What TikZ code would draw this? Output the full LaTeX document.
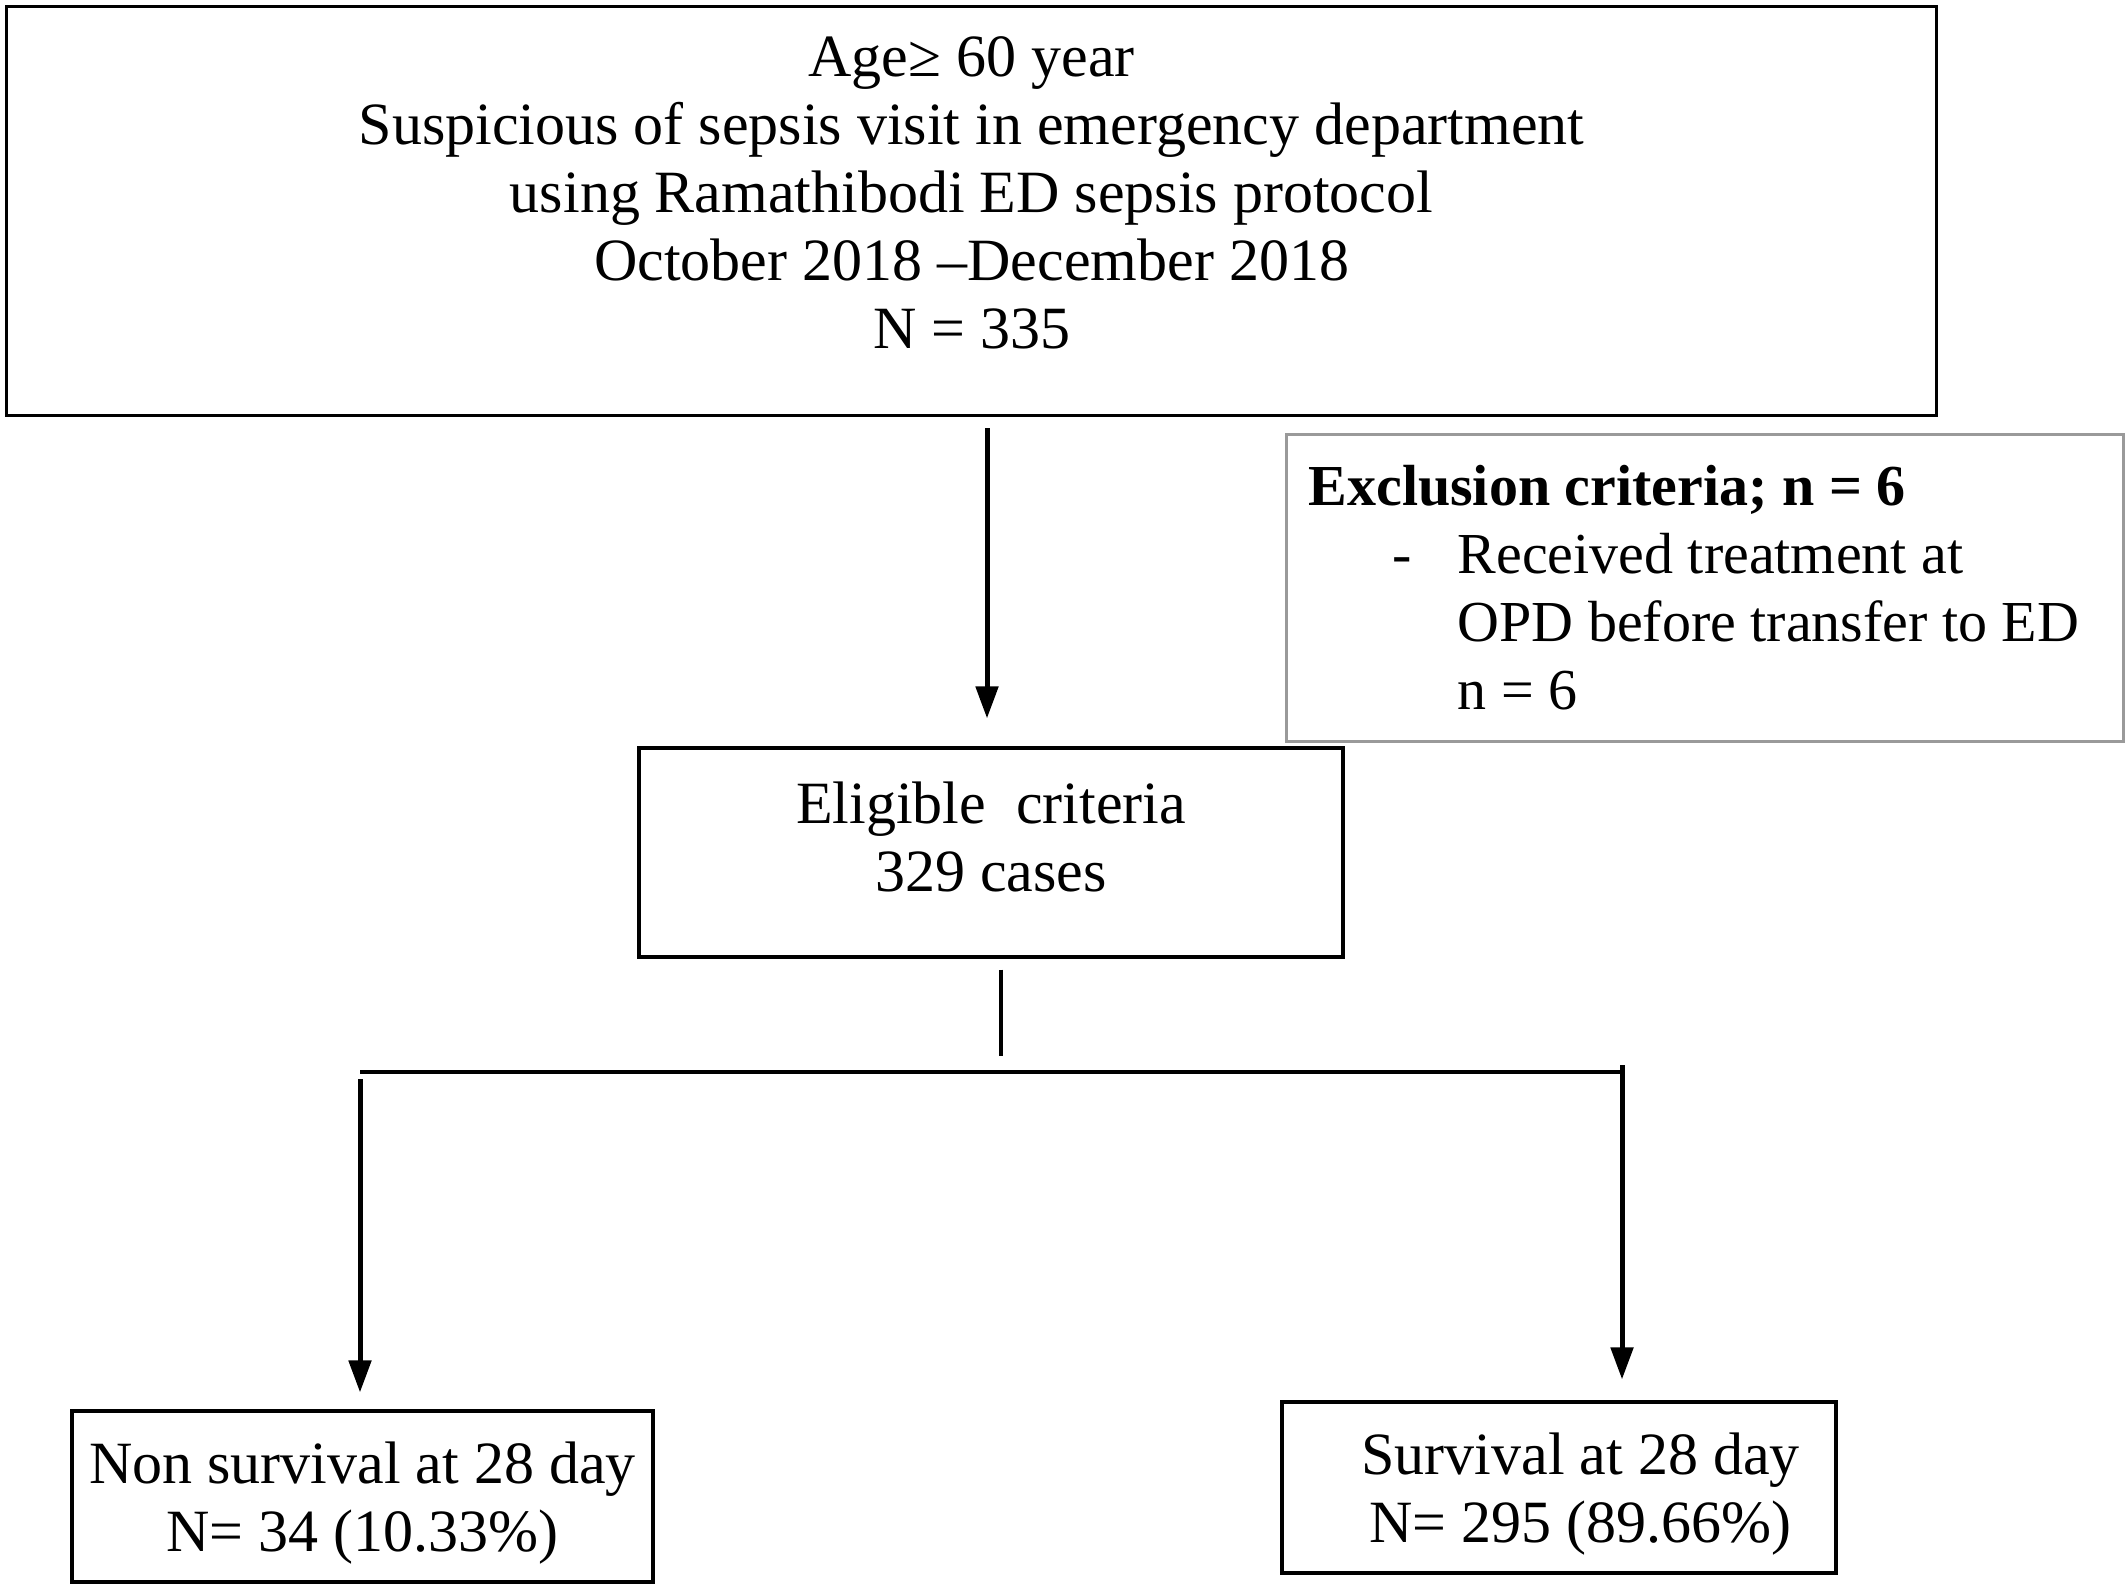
\documentclass[tikz,border=0pt]{standalone}
\usepackage{fontspec}
\setmainfont{Liberation Serif}
\usetikzlibrary{arrows.meta,positioning}
\definecolor{lightframe}{HTML}{9A9A9A}
\tikzset{box/.style={draw=black,line width=0.8pt,inner sep=0pt},
  txt/.style={align=center,inner sep=0pt,font=\fontsize{15}{17}\selectfont},
  exbox/.style={box,draw=lightframe,align=flush left,inner xsep=5.5pt,text width=198.25pt,
    font=\fontsize{14.5}{17}\selectfont},
  arrow/.style={-{Triangle[length=8pt,width=5.5pt]},line width=1.25pt,draw=black},
  link/.style={line width=0.8pt,draw=black}}
\begin{document}
\begin{tikzpicture}[x=0.25pt,y=-0.25pt]
\useasboundingbox (0,0) rectangle (2128,1587);
% frames
\node[box,anchor=north west,minimum width=482.5pt,minimum height=102.25pt] (visit) at (5,5) {};
\node[box,minimum width=176pt,minimum height=52.25pt] (elig) at (991,852.5) {};
\node[box,minimum width=145.25pt,minimum height=42.75pt] (nonsurv) at (362.5,1496.5) {};
\node[box,minimum width=138.5pt,minimum height=42.75pt] (surv) at (1559,1487.5) {};
\node[exbox,anchor=north west,minimum height=76.75pt] (excl) at (1285,433)
  {{\bfseries Exclusion criteria; n = 6}\\
   \hspace*{21pt}\makebox[16.25pt][l]{-}Received treatment at\\
   \hspace*{37.25pt}OPD before transfer to ED\\
   \hspace*{37.25pt}n = 6};
% texts
\node[txt] (visittxt) at ([yshift=4.6pt]visit.center)
  {Age≥ 60 year\\Suspicious of sepsis visit in emergency department\\
   using Ramathibodi ED sepsis protocol\\October 2018 –December 2018\\N = 335};
\node[txt] (eligtxt) at ([yshift=4pt]elig.center) {Eligible~ criteria\\329 cases};
\node[txt] (nonsurvtxt) at ([yshift=-1.7pt]nonsurv.center) {Non survival at 28 day\\N= 34 (10.33\%)};
\node[txt] (survtxt) at ([xshift=5.4pt,yshift=-1.7pt]surv.center) {Survival at 28 day\\N= 295 (89.66\%)};
% split below the eligible box
\coordinate (splitL) at (360,1072);
\coordinate (splitR) at (1622,1072);
\draw[arrow,shorten <=2.75pt,shorten >=7pt] ([xshift=-1pt]elig.north |- visit.south) -- ([xshift=-1pt]elig.north);
\draw[link] ([xshift=2.5pt,yshift=-2.75pt]elig.south) -- ++(0,86);
\draw[link] (splitL) -- (splitR);
\draw[arrow,shorten >=4.25pt] ([yshift=-1.75pt]splitL) -- (splitL |- nonsurv.north);
\draw[arrow,shorten >=5.25pt] ([yshift=1.75pt]splitR) -- (splitR |- surv.north);
\end{tikzpicture}
\end{document}
